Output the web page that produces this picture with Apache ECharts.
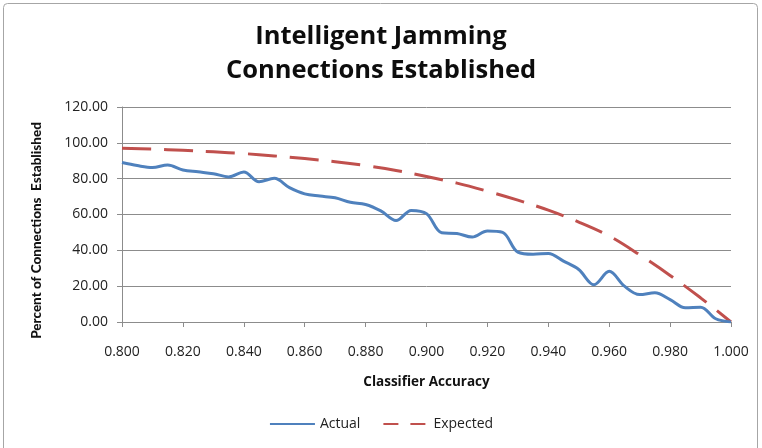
<!DOCTYPE html>
<html>
<head>
<meta charset="utf-8">
<script src="https://cdn.jsdelivr.net/npm/echarts@6/dist/echarts.min.js"></script>
<style>
  html, body { margin: 0; padding: 0; background: #fff; }
  #chart { width: 762px; height: 448px; }
</style>
</head>
<body>
<div id="chart"></div>
<script>
// Classifier accuracy sample points
const accuracyActual = [
  0.800, 0.805, 0.810, 0.815, 0.820, 0.825, 0.830, 0.835, 0.840, 0.845,
  0.850, 0.855, 0.860, 0.865, 0.870, 0.875, 0.880, 0.885, 0.890, 0.895,
  0.900, 0.905, 0.910, 0.915, 0.920, 0.925, 0.930, 0.935, 0.940, 0.945,
  0.950, 0.955, 0.960, 0.965, 0.970, 0.975, 0.980, 0.985, 0.990, 0.995, 1.000
];
// Measured percent of connections established
const actualValues = [
  89.0, 87.3, 86.2, 87.6, 84.8, 83.8, 82.8, 81.0, 83.7, 78.3,
  80.2, 75.0, 71.5, 70.3, 69.3, 66.8, 65.6, 62.0, 56.6, 62.3,
  60.5, 49.8, 49.4, 47.4, 50.8, 50.0, 39.0, 37.8, 38.3, 34.0,
  29.3, 20.8, 28.3, 20.0, 15.3, 16.3, 12.5, 7.9, 8.3, 1.8, 0.0
];
// Expected percent of connections established
const accuracyExpected = [
  0.80, 0.81, 0.82, 0.83, 0.84, 0.85, 0.86, 0.87, 0.88, 0.89, 0.90,
  0.91, 0.92, 0.93, 0.94, 0.95, 0.96, 0.97, 0.98, 0.99, 1.00
];
const expectedValues = [
  97.0, 96.5, 95.8, 95.0, 94.0, 92.7, 91.2, 89.5, 87.3, 84.6, 81.2,
  77.5, 73.0, 68.0, 62.4, 55.8, 48.0, 37.5, 26.0, 13.5, 0.0
];

const seriesNames = ['Actual', 'Expected'];
const titleLines = ['Intelligent Jamming', 'Connections Established'];
const xAxisTitle = 'Classifier Accuracy';
const yAxisTitle = 'Percent of Connections  Established';

const pairs = (xs, ys) => xs.map((x, i) => [x, ys[i]]);

const SANS = '"Open Sans", sans-serif';
const NARROW = 'Lato, sans-serif';
const BLUE = '#4f81bd';
const RED = '#c0504d';
const chart = echarts.init(document.getElementById('chart'), null, { renderer: 'canvas' });

chart.setOption({
  backgroundColor: '#ffffff',
  animation: false,
  graphic: [{
    type: 'rect',
    shape: { x: 3.5, y: 3.5, width: 754, height: 460, r: 4 },
    style: { fill: 'none', stroke: '#a6a6a6', lineWidth: 1 },
    silent: true
  }],
  title: {
    text: titleLines.join('\n'),
    left: 'center',
    top: 15,
    textStyle: {
      fontFamily: SANS,
      fontWeight: 'bold',
      fontSize: 25.5,
      lineHeight: 34,
      color: '#0d0d0d'
    }
  },
  legend: {
    data: [
      { name: seriesNames[0] },
      { name: seriesNames[1], lineStyle: { type: [15, 12] } }
    ],
    bottom: 12,
    left: 'center',
    itemWidth: 45,
    itemHeight: 3,
    itemGap: 22,
    itemStyle: { opacity: 0 },
    textStyle: { fontFamily: SANS, fontSize: 14, color: '#222', padding: [0, 0, 0, 0] }
  },
  grid: { left: 122, right: 31, top: 107, bottom: 126 },
  xAxis: {
    type: 'value',
    min: 0.8,
    max: 1.0,
    interval: 0.02,
    name: xAxisTitle,
    nameLocation: 'middle',
    nameGap: 53,
    nameTextStyle: { fontFamily: SANS, fontWeight: 'bold', fontSize: 13.5, color: '#111' },
    axisLine: { lineStyle: { color: '#8c8c8c', width: 1 } },
    axisTick: { show: true, inside: false, length: 5, lineStyle: { color: '#8c8c8c' } },
    axisLabel: {
      margin: 23,
      fontFamily: SANS,
      fontSize: 14,
      color: '#222',
      formatter: v => v.toFixed(3)
    },
    splitLine: { show: false }
  },
  yAxis: {
    type: 'value',
    min: 0,
    max: 120,
    interval: 20,
    name: yAxisTitle,
    nameLocation: 'middle',
    nameGap: 78,
    nameRotate: 90,
    nameTextStyle: {
      fontFamily: NARROW, fontWeight: 900, fontSize: 13.5, color: '#111',
      padding: [0, 32, 0, 0]
    },
    axisLine: { show: true, lineStyle: { color: '#8c8c8c', width: 1 } },
    axisTick: { show: true, length: 5, lineStyle: { color: '#8c8c8c' } },
    axisLabel: {
      margin: 14,
      fontFamily: SANS,
      fontSize: 14,
      color: '#222',
      formatter: v => v.toFixed(2)
    },
    splitLine: { show: true, lineStyle: { color: '#8c8c8c', width: 1 } }
  },
  series: [
    {
      name: seriesNames[0],
      type: 'line',
      data: pairs(accuracyActual, actualValues),
      smooth: 0.35,
      showSymbol: false,
      symbol: 'none',
      lineStyle: { color: BLUE, width: 3 },
      itemStyle: { color: BLUE },
      z: 3
    },
    {
      name: seriesNames[1],
      type: 'line',
      data: pairs(accuracyExpected, expectedValues),
      smooth: 0.35,
      showSymbol: false,
      symbol: 'none',
      lineStyle: { color: RED, width: 3, type: [29, 13] },
      itemStyle: { color: RED },
      z: 2
    }
  ]
});
</script>
</body>
</html>
